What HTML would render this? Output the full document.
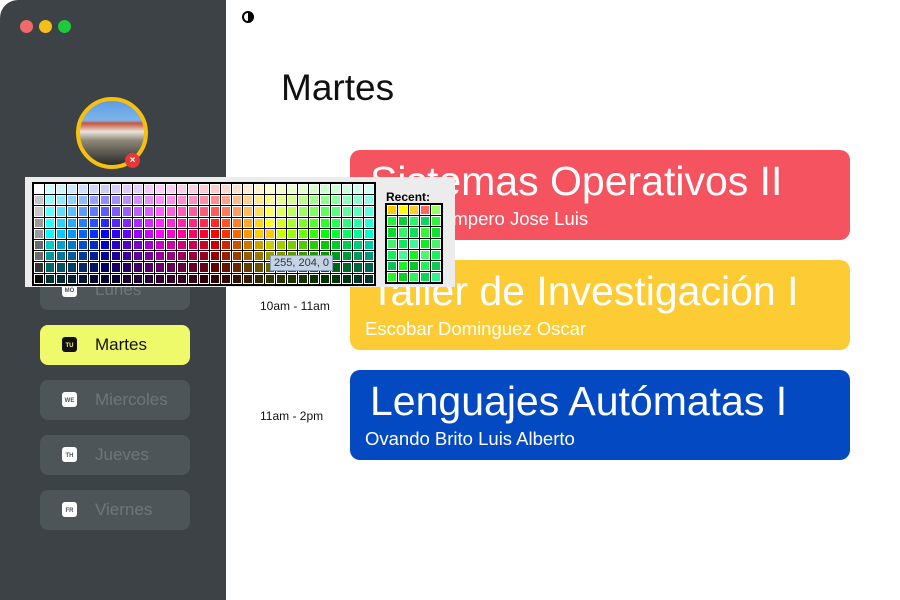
<!DOCTYPE html>
<html><head><style>
body{margin:0;width:900px;height:600px;background:#fff;position:relative;overflow:hidden;font-family:"Liberation Sans",sans-serif}
.side{position:absolute;left:0;top:0;width:226px;height:600px;background:#3c4246;border-top-left-radius:18px}
.main{position:absolute;left:226px;top:0;width:674px;height:600px;background:#fff;border-top-right-radius:18px}
.dot{position:absolute;top:20px;width:13px;height:13px;border-radius:50%}
.nav{position:absolute;left:40px;width:150px;height:40px;border-radius:8px;background:#4d5559;color:#6d777b;font-size:17px}
.nav span.t{position:absolute;left:55px;top:10px}
.nav .ic{position:absolute;left:22px;top:12px;width:15px;height:15px;border-radius:3px;background:#fff;color:#4d5559;font-size:6px;font-weight:bold;text-align:center;line-height:18px}
.card{position:absolute;left:350px;width:500px;height:90px;border-radius:10px;color:#fff}
.card .h{position:absolute;left:20px;top:8px;font-size:41px;white-space:nowrap}
.card .s{position:absolute;left:15px;top:58px;font-size:18.5px;white-space:nowrap}
.time{position:absolute;left:260px;font-size:12px;color:#111}
#pal{position:absolute;left:25px;top:177px;width:430px;height:110px;background:#ececec}
.grid{position:absolute;border:2px solid #000;background:#000;display:grid;gap:1px}
.grid div{border:1px solid #fff;box-sizing:border-box}
</style></head><body>
<div class="side"></div>
<div class="main"></div>
<div class="dot" style="left:20px;background:#f06a6a"></div>
<div class="dot" style="left:39px;background:#f5bf1a"></div>
<div class="dot" style="left:58px;background:#1ec93a"></div>
<div style="position:absolute;left:76px;top:97px;width:64px;height:64px;border:4px solid #f5c00f;border-radius:50%;background:linear-gradient(#5c9de6 0,#7fb4ea 30%,#c9553c 35%,#e8e4dc 48%,#8c8676 62%,#2a2a2a 100%)"></div>
<div style="position:absolute;left:125px;top:153px;width:15px;height:15px;border-radius:50%;background:#e53935;color:#fff;font-size:10px;text-align:center;line-height:15px;font-weight:bold">×</div>
<div style="position:absolute;left:242px;top:11px;width:12px;height:12px;border:2px solid #000;border-radius:50%;background:linear-gradient(90deg,#fff 50%,#000 50%);box-sizing:border-box"></div>
<div style="position:absolute;left:281px;top:67px;font-size:37px;color:#111">Martes</div>

<div class="nav" style="top:270px"><div class="ic">MO</div><span class="t">Lunes</span></div>
<div class="nav" style="top:325px;background:#eefa6a;color:#111"><div class="ic" style="background:#111;color:#eefa6a">TU</div><span class="t">Martes</span></div>
<div class="nav" style="top:380px"><div class="ic">WE</div><span class="t">Miercoles</span></div>
<div class="nav" style="top:435px"><div class="ic">TH</div><span class="t">Jueves</span></div>
<div class="nav" style="top:490px"><div class="ic">FR</div><span class="t">Viernes</span></div>

<div class="card" style="top:150px;background:#f5535f"><div class="h">Sistemas Operativos II</div><div class="s">Carrillo Campero Jose Luis</div></div>
<div class="card" style="top:260px;background:#fdcb33"><div class="h">Taller de Investigación I</div><div class="s">Escobar Dominguez Oscar</div></div>
<div class="card" style="top:370px;background:#0249c2"><div class="h">Lenguajes Autómatas I</div><div class="s">Ovando Brito Luis Alberto</div></div>
<div class="time" style="top:299px">10am - 11am</div>
<div class="time" style="top:409px">11am - 2pm</div>

<div id="pal">
<div class="grid" id="g1" style="left:7px;top:5px;grid-template-columns:repeat(31,10px);grid-template-rows:repeat(9,10.2px)"></div>
<div style="position:absolute;left:361px;top:13px;font-size:12px;font-weight:bold">Recent:</div>
<div class="grid" id="g2" style="left:360px;top:26px;grid-template-columns:repeat(5,10px);grid-template-rows:repeat(7,10.2px)"></div>
<div style="position:absolute;left:245px;top:78px;background:#c5d3e6;border:1px solid #8aa0c0;font-size:11px;padding:1px 3px;color:#333">255, 204, 0</div>
</div>
<script>
var g=document.getElementById('g1');
var L=[90,78,68,58,50,40,30,20,10];
var gr=[100,78,78,60,60,42,42,20,0];
for(var r=0;r<9;r++)for(var c=0;c<31;c++){var d=document.createElement('div');
if(c==0){d.style.background='hsl(0,0%,'+gr[r]+'%)';}else{var h=(180+(c-1)*12)%360;d.style.background='hsl('+h+',100%,'+L[r]+'%)';}
if(r==4&&c==21){d.style.background='#fc0';d.style.outline='1px solid #00f';}
g.appendChild(d);}
var g2=document.getElementById('g2');
var rc=['#fc0','#ff0','#fc3','#f66','#9f6'];
for(var i=0;i<35;i++){var d=document.createElement('div');d.style.background=i<5?rc[i]:'hsl('+(120+(i*37)%30)+',90%,'+(40+(i*13)%25)+'%)';g2.appendChild(d);}
</script>
</body></html>
